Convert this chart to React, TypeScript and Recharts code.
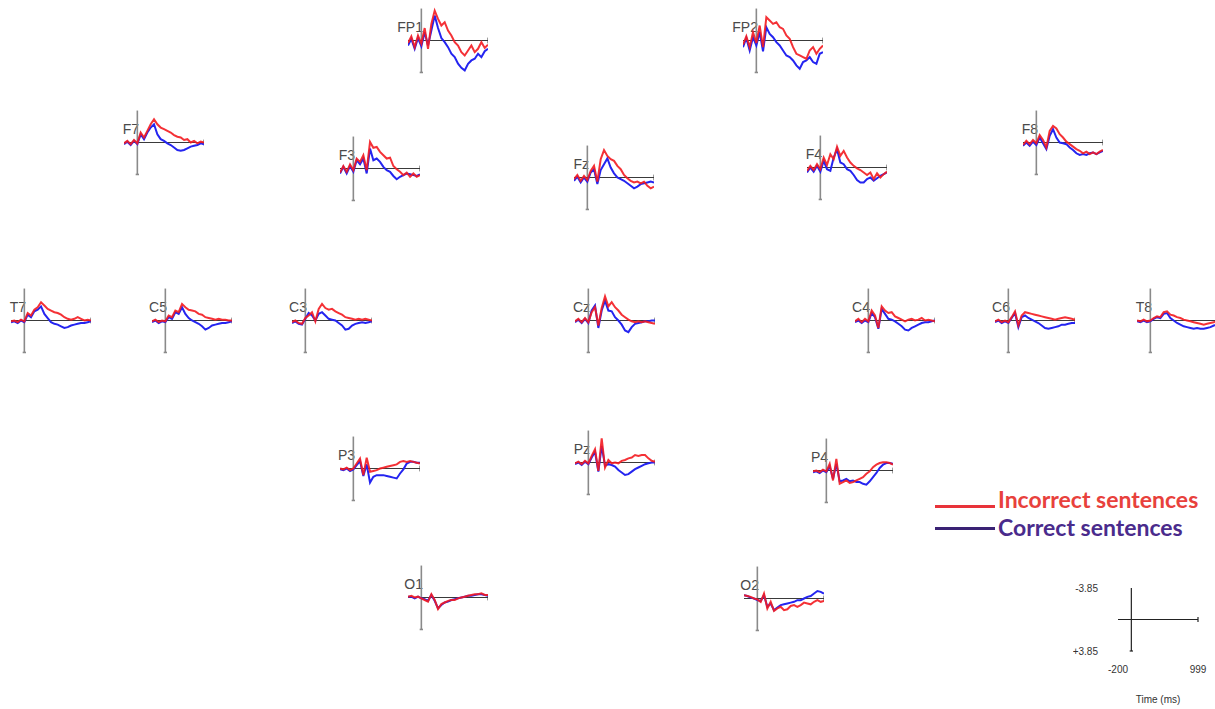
import React from 'react';
import { LineChart, Line, XAxis, YAxis, ReferenceLine, Label } from 'recharts';

// time points (ms) shared by every electrode
const times = [-200, -150, -100, -50, 0, 50, 100, 150, 200, 250, 300, 350, 400, 450, 500, 550, 600, 650, 700, 750, 800, 850, 900, 950, 999];

// amplitudes in µV, negative plotted upwards
const fp1Incorrect = [0.3, -0.5, 0.8, -0.6, 0.4, -1.5, 1.0, -2.0, -3.6, -2.6, -1.8, -2.2, -1.2, -0.6, 0.2, 0.6, 1.4, 1.8, 1.2, 0.6, 1.4, 1.0, 0.2, 0.9, 0.5];
const fp1Correct = [0.6, -0.2, 1.0, -0.3, 0.7, -1.0, 0.6, -1.2, -3.0, -1.5, -0.3, 0.2, 0.8, 1.6, 2.0, 2.8, 3.3, 3.6, 2.8, 2.4, 2.2, 1.6, 2.0, 1.3, 1.0];
const fp2Incorrect = [0.5, -0.5, 0.8, -1.0, 0.3, -1.8, 0.8, -2.8, -2.4, -2.0, -2.2, -1.6, -1.4, -0.6, -0.2, 0.8, 1.6, 1.8, 2.0, 2.2, 1.2, 0.8, 1.6, 1.0, 0.6];
const fp2Correct = [0.8, -0.3, 1.2, -0.4, 0.6, -1.0, 1.3, -1.6, -0.8, -0.4, 0.2, 0.6, 1.2, 1.8, 2.0, 2.4, 3.0, 3.4, 2.6, 2.4, 2.0, 2.6, 2.8, 1.6, 1.4];
const f7Incorrect = [0.1, -0.2, 0.2, -0.3, 0.1, -1.2, -0.6, -1.4, -2.2, -2.8, -2.2, -1.8, -1.6, -1.4, -1.2, -0.9, -0.7, -0.6, -0.3, -0.4, 0.0, -0.2, 0.1, -0.1, 0.0];
const f7Correct = [0.2, -0.1, 0.3, -0.2, 0.2, -1.0, -0.4, -1.2, -1.8, -2.2, -1.0, -0.4, -0.2, 0.1, 0.3, 0.6, 0.9, 1.0, 0.9, 0.7, 0.5, 0.4, 0.3, 0.1, 0.2];
const f3Incorrect = [0.5, -0.3, 0.4, -0.5, 0.2, -1.2, -0.8, -1.6, 0.2, -3.2, -2.5, -2.6, -2.0, -1.6, -1.2, -1.3, -0.3, 0.1, 0.4, 0.8, 0.5, 1.0, 0.6, 1.0, 0.8];
const f3Correct = [0.6, -0.2, 0.6, -0.3, 0.4, -1.0, -0.5, -1.2, 0.6, -2.4, -1.0, -1.2, -0.8, -0.2, 0.2, 0.4, 0.9, 1.3, 1.0, 0.8, 0.6, 0.7, 0.8, 0.9, 0.7];
const fzIncorrect = [0.2, -0.3, 0.4, -0.2, 0.3, -0.8, -1.4, 0.5, -2.2, -3.3, -2.6, -2.2, -2.0, -1.4, -1.0, -0.3, 0.1, 0.4, 0.6, 0.5, 0.7, 0.5, 1.0, 1.3, 1.1];
const fzCorrect = [0.4, -0.1, 0.6, 0.0, 0.5, -0.6, -1.0, 0.8, -0.9, -1.6, -2.3, -1.2, -0.5, 0.0, 0.2, 0.4, 0.7, 1.0, 1.3, 1.1, 0.8, 0.7, 0.6, 0.5, 0.6];
const f4Incorrect = [0.4, -0.2, 0.3, -0.4, 0.2, -1.2, -0.3, -1.6, -1.0, -2.5, -1.4, -2.0, -1.2, -0.6, -0.2, 0.1, 0.3, 0.6, 0.9, 0.6, 1.4, 0.7, 1.2, 0.8, 0.5];
const f4Correct = [0.6, 0.0, 0.5, -0.2, 0.5, -0.8, 0.2, 0.4, -1.2, -2.2, -0.6, -0.4, 0.2, 0.4, 0.9, 1.5, 1.8, 1.8, 1.4, 1.2, 1.6, 1.3, 1.0, 0.8, 0.6];
const f8Incorrect = [0.3, -0.2, 0.2, -0.3, 0.1, -0.9, -0.3, 0.6, -1.4, -2.0, -1.7, -1.0, -0.6, -0.1, 0.2, 0.5, 0.8, 1.0, 1.3, 1.1, 1.4, 1.2, 1.4, 1.1, 0.9];
const f8Correct = [0.4, 0.0, 0.4, -0.1, 0.3, -0.6, 0.1, 0.8, -0.8, -1.6, -0.6, 0.0, 0.1, 0.2, 0.6, 0.9, 1.3, 1.5, 1.4, 1.5, 1.3, 1.2, 1.4, 1.2, 1.0];
const t7Incorrect = [0.1, 0.0, 0.2, -0.1, 0.1, -0.9, -0.6, -1.3, -1.6, -2.2, -1.8, -1.4, -1.2, -1.0, -0.9, -0.7, -0.4, -0.2, -0.1, -0.2, -0.4, -0.2, 0.0, -0.1, 0.0];
const t7Correct = [0.2, 0.1, 0.3, 0.0, 0.2, -0.7, -0.4, -1.1, -1.3, -1.7, -0.8, -0.3, 0.2, 0.4, 0.5, 0.7, 0.9, 0.8, 0.6, 0.5, 0.4, 0.3, 0.3, 0.2, 0.1];
const c5Incorrect = [0.1, -0.1, 0.2, 0.0, 0.1, -0.6, -0.4, -1.2, -1.0, -2.0, -1.6, -1.3, -1.2, -1.1, -0.8, -0.7, -0.4, -0.3, -0.2, -0.1, -0.2, -0.1, -0.1, 0.0, 0.0];
const c5Correct = [0.2, 0.0, 0.3, 0.1, 0.2, -0.4, -0.2, -1.0, -0.8, -1.6, -0.8, -0.3, 0.0, 0.2, 0.4, 0.7, 1.1, 0.9, 0.6, 0.5, 0.4, 0.3, 0.3, 0.2, 0.1];
const c3Incorrect = [0.2, 0.0, 0.3, 0.4, -0.3, -0.6, -1.0, 0.1, -1.4, -2.0, -1.5, -1.3, -1.4, -1.1, -0.9, -0.7, -0.4, -0.3, -0.2, -0.1, -0.2, -0.1, -0.2, -0.1, 0.0];
const c3Correct = [0.3, 0.1, 0.4, 0.5, -0.2, -0.9, -0.6, 0.0, -0.8, -1.0, -0.6, -0.2, -0.1, 0.0, 0.3, 0.6, 1.1, 1.0, 0.6, 0.4, 0.3, 0.2, 0.3, 0.2, 0.1];
const czIncorrect = [0.1, -0.2, 0.2, -0.3, 0.2, -1.0, -1.6, 0.6, -1.5, -2.9, -1.7, -2.2, -1.6, -1.2, -0.7, -0.4, -0.1, 0.1, 0.2, 0.1, 0.2, 0.1, 0.2, 0.3, 0.4];
const czCorrect = [0.2, -0.1, 0.3, -0.2, 0.3, -1.2, -1.8, 0.9, -1.2, -2.4, -1.2, -1.1, -0.4, 0.0, 0.5, 1.2, 1.4, 0.8, 0.4, 0.3, 0.2, 0.1, 0.1, 0.0, 0.0];
const c4Incorrect = [0.1, -0.2, 0.2, -0.2, 0.1, -1.2, -0.6, 0.9, -1.7, -1.2, -0.9, -1.0, -0.5, -0.3, -0.1, 0.1, -0.1, -0.2, 0.0, -0.1, -0.3, 0.0, -0.1, 0.0, 0.1];
const c4Correct = [0.2, 0.0, 0.3, 0.0, 0.2, -0.9, -0.4, 1.0, -1.4, -0.8, -0.2, -0.1, 0.1, 0.4, 0.7, 1.1, 1.2, 0.9, 0.7, 0.5, 0.3, 0.2, 0.2, 0.1, 0.0];
const c6Incorrect = [0.1, -0.1, 0.2, 0.0, 0.2, -0.4, -1.1, 0.6, -0.6, -1.0, -0.9, -0.8, -0.7, -0.6, -0.5, -0.4, -0.3, -0.2, -0.1, -0.2, -0.3, -0.4, -0.3, -0.2, -0.1];
const c6Correct = [0.2, 0.0, 0.3, 0.1, 0.3, -0.3, -0.9, 0.8, -0.4, -0.6, -0.3, -0.1, 0.1, 0.3, 0.6, 0.9, 1.0, 0.9, 0.8, 0.7, 0.5, 0.5, 0.4, 0.3, 0.3];
const t8Incorrect = [0.0, 0.1, -0.1, 0.1, 0.0, -0.3, -0.5, -0.4, -1.0, -1.1, -0.7, -0.6, -0.4, -0.3, -0.1, 0.0, 0.1, 0.2, 0.3, 0.4, 0.5, 0.4, 0.3, 0.2, 0.1];
const t8Correct = [0.1, 0.2, 0.0, 0.2, 0.1, -0.2, -0.4, -0.3, -0.8, -0.9, -0.3, 0.0, 0.3, 0.5, 0.7, 0.8, 0.9, 1.0, 0.9, 1.0, 1.0, 0.9, 0.8, 0.6, 0.5];
const p3Incorrect = [0.0, 0.1, -0.1, 0.2, 0.0, -0.6, -1.2, 0.8, -1.3, 0.4, 0.3, 0.2, 0.0, -0.1, -0.2, -0.3, -0.4, -0.5, -0.8, -0.9, -0.8, -0.9, -0.8, -0.7, -0.6];
const p3Correct = [0.1, 0.2, 0.0, 0.3, 0.1, -0.4, -0.9, 0.9, -0.5, 1.7, 1.0, 0.8, 0.8, 0.8, 0.9, 1.0, 1.1, 1.2, 0.6, 0.1, -0.6, -0.8, -0.8, -0.7, -0.7];
const pzIncorrect = [0.1, -0.1, 0.2, -0.2, 0.1, -0.8, -1.6, 1.0, -2.9, 0.6, -0.3, 0.1, 0.0, 0.1, -0.2, -0.3, -0.5, -0.6, -0.9, -0.8, -0.9, -0.9, -0.5, -0.2, -0.1];
const pzCorrect = [0.2, 0.0, 0.3, -0.1, 0.2, -0.6, -1.3, 1.1, -2.0, 0.4, 0.2, 0.3, 0.5, 0.9, 1.2, 1.5, 1.4, 1.1, 0.8, 0.6, 0.4, 0.2, 0.1, 0.0, 0.0];
const p4Incorrect = [0.1, 0.0, 0.2, -0.1, 0.1, -0.8, 1.2, -1.4, 1.6, 1.4, 1.2, 1.5, 1.4, 1.2, 1.0, 0.8, 0.4, 0.1, -0.4, -0.7, -0.9, -1.0, -1.0, -0.9, -0.7];
const p4Correct = [0.2, 0.1, 0.3, 0.0, 0.2, -0.5, 1.0, -0.8, 1.3, 1.2, 1.0, 1.3, 1.2, 1.4, 1.4, 1.6, 1.7, 1.3, 0.8, 0.3, -0.3, -0.7, -0.9, -0.9, -0.8];
const o1Incorrect = [-0.1, -0.2, 0.0, -0.1, 0.1, 0.3, 0.5, -0.4, 0.3, 1.4, 0.8, 0.6, 0.4, 0.3, 0.3, 0.1, 0.0, -0.1, -0.2, -0.3, -0.4, -0.4, -0.5, -0.3, -0.3];
const o1Correct = [-0.1, -0.1, 0.1, -0.1, 0.1, 0.2, 0.4, -0.3, 0.4, 1.3, 0.9, 0.6, 0.5, 0.3, 0.2, 0.1, 0.0, -0.1, -0.2, -0.2, -0.3, -0.4, -0.4, -0.3, -0.2];
const o2Incorrect = [-0.4, -0.3, -0.2, 0.0, 0.1, 0.4, -0.6, 1.2, 0.4, 1.5, 1.2, 1.0, 1.4, 1.3, 0.9, 0.8, 1.0, 0.8, 0.5, 0.6, 0.7, 0.4, 0.2, 0.4, 0.3];
const o2Correct = [-0.4, -0.3, -0.1, 0.0, 0.2, 0.3, -0.4, 1.0, 0.6, 1.4, 1.1, 0.8, 0.7, 0.6, 0.5, 0.4, 0.2, 0.2, 0.0, -0.2, -0.3, -0.6, -0.9, -0.8, -0.6];

const electrodes = [
  { name: 'FP1', incorrect: fp1Incorrect, correct: fp1Correct },
  { name: 'FP2', incorrect: fp2Incorrect, correct: fp2Correct },
  { name: 'F7', incorrect: f7Incorrect, correct: f7Correct },
  { name: 'F3', incorrect: f3Incorrect, correct: f3Correct },
  { name: 'Fz', incorrect: fzIncorrect, correct: fzCorrect },
  { name: 'F4', incorrect: f4Incorrect, correct: f4Correct },
  { name: 'F8', incorrect: f8Incorrect, correct: f8Correct },
  { name: 'T7', incorrect: t7Incorrect, correct: t7Correct },
  { name: 'C5', incorrect: c5Incorrect, correct: c5Correct },
  { name: 'C3', incorrect: c3Incorrect, correct: c3Correct },
  { name: 'Cz', incorrect: czIncorrect, correct: czCorrect },
  { name: 'C4', incorrect: c4Incorrect, correct: c4Correct },
  { name: 'C6', incorrect: c6Incorrect, correct: c6Correct },
  { name: 'T8', incorrect: t8Incorrect, correct: t8Correct },
  { name: 'P3', incorrect: p3Incorrect, correct: p3Correct },
  { name: 'Pz', incorrect: pzIncorrect, correct: pzCorrect },
  { name: 'P4', incorrect: p4Incorrect, correct: p4Correct },
  { name: 'O1', incorrect: o1Incorrect, correct: o1Correct },
  { name: 'O2', incorrect: o2Incorrect, correct: o2Correct },
];

// page position of each plot's origin (0 ms, 0 µV)
const origins: Record<string, [number, number]> = {
  FP1: [421, 40], FP2: [756, 40],
  F7: [137, 142], F3: [353, 168], Fz: [587, 177], F4: [820, 167], F8: [1036, 142],
  T7: [24, 320], C5: [165, 320], C3: [305, 320], Cz: [588, 320], C4: [868, 320], C6: [1008, 320], T8: [1150, 320],
  P3: [353, 468], Pz: [588, 462], P4: [826, 470],
  O1: [421, 597], O2: [757, 598],
};

const T_MIN = -200;
const T_MAX = 999;
const AMP = 3.85;
const Y_LIM = 5;
const PLOT_W = 80;
const PX_PER_MS = PLOT_W / (T_MAX - T_MIN);
const PX_PER_UV = 32 / AMP;
const PLOT_H = Math.round(2 * Y_LIM * PX_PER_UV);

const RED = '#f31b20';
const BLUE = '#2424f0';

const Electrode = ({ name, incorrect, correct }: { name: string; incorrect: number[]; correct: number[] }) => {
  const [x0, y0] = origins[name];
  const data = times.map((t, i) => ({ t, incorrect: incorrect[i], correct: correct[i] }));
  return (
    <>
      <div
        style={{
          position: 'absolute', left: x0 - 38, top: y0 - 21, width: 40, textAlign: 'right',
          fontFamily: 'Arial, "Liberation Sans", sans-serif', fontSize: 14, lineHeight: '16px', color: '#4a4a4a',
        }}
      >
        {name}
      </div>
      <div style={{ position: 'absolute', left: x0 - (0 - T_MIN) * PX_PER_MS, top: y0 - PLOT_H / 2 }}>
        <LineChart width={PLOT_W} height={PLOT_H} data={data} margin={{ top: 0, right: 0, bottom: 0, left: 0 }}>
          <XAxis dataKey="t" type="number" domain={[T_MIN, T_MAX]} hide />
          <YAxis type="number" domain={[-Y_LIM, Y_LIM]} reversed hide />
          <ReferenceLine segment={[{ x: 0, y: -AMP }, { x: 0, y: AMP }]} stroke="#8a8a8a" strokeWidth={1.6} />
          <ReferenceLine segment={[{ x: -25, y: AMP }, { x: 25, y: AMP }]} stroke="#8a8a8a" strokeWidth={1.6} />
          <ReferenceLine y={0} stroke="#3a3a3a" strokeWidth={1} />
          <ReferenceLine segment={[{ x: T_MAX, y: -0.35 }, { x: T_MAX, y: 0.35 }]} stroke="#3a3a3a" strokeWidth={1} />
          <Line type="linear" dataKey="correct" stroke={BLUE} strokeWidth={2} dot={false} isAnimationActive={false} />
          <Line type="linear" dataKey="incorrect" stroke={RED} strokeWidth={2} strokeOpacity={0.9} dot={false} isAnimationActive={false} />
        </LineChart>
      </div>
    </>
  );
};

const scaleData = [{ t: T_MIN, v: 0 }, { t: T_MAX, v: 0 }];
const axisFont = { fontSize: 10, fill: '#333', fontFamily: 'Arial, "Liberation Sans", sans-serif' };

const ScaleBar = () => (
  <div style={{ position: 'absolute', left: 1118 - 45, top: 588 - 10 }}>
    <LineChart width={45 + PLOT_W + 20} height={10 + 63 + 60} data={scaleData} margin={{ top: 10, right: 20, bottom: 0, left: 0 }}>
      <XAxis
        dataKey="t" type="number" domain={[T_MIN, T_MAX]} ticks={[T_MIN, T_MAX]}
        axisLine={false} tickLine={false} tick={axisFont} tickMargin={9} height={60}
      >
        <Label value="Time (ms)" position="insideBottom" offset={8} style={axisFont} />
      </XAxis>
      <YAxis
        type="number" domain={[-AMP, AMP]} ticks={[-AMP, AMP]} reversed width={45}
        axisLine={false} tickLine={false} tick={axisFont} tickMargin={14}
        tickFormatter={(v: number) => (v > 0 ? `+${v}` : `${v}`)}
      />
      <Line dataKey="v" stroke="none" dot={false} isAnimationActive={false} />
      <ReferenceLine segment={[{ x: 0, y: -AMP }, { x: 0, y: AMP }]} stroke="#222" strokeWidth={1.2} />
      <ReferenceLine segment={[{ x: -25, y: AMP }, { x: 25, y: AMP }]} stroke="#222" strokeWidth={1.2} />
      <ReferenceLine y={0} stroke="#222" strokeWidth={1.2} />
      <ReferenceLine segment={[{ x: T_MAX, y: -0.3 }, { x: T_MAX, y: 0.3 }]} stroke="#222" strokeWidth={1.2} />
    </LineChart>
  </div>
);

const legendItems = [
  { label: 'Incorrect sentences', line: '#e8333a', text: '#e8413c', textTop: 485, lineTop: 505 },
  { label: 'Correct sentences', line: '#3a2274', text: '#4a2b8c', textTop: 513, lineTop: 527 },
];

const App = () => (
  <div style={{ position: 'absolute', left: 0, top: 0, width: 1215, height: 709, background: '#fff', overflow: 'hidden' }}>
    {electrodes.map((e) => (
      <Electrode key={e.name} name={e.name} incorrect={e.incorrect} correct={e.correct} />
    ))}
    <ScaleBar />
    {legendItems.map((it) => (
      <React.Fragment key={it.label}>
        <div style={{ position: 'absolute', left: 935, top: it.lineTop, width: 60, height: 2.5, background: it.line }} />
        <div
          style={{
            position: 'absolute', left: 998, top: it.textTop, whiteSpace: 'nowrap',
            fontFamily: 'Lato, "Open Sans", sans-serif', fontWeight: 700, fontSize: 23, lineHeight: '28px', color: it.text,
          }}
        >
          {it.label}
        </div>
      </React.Fragment>
    ))}
  </div>
);

export default App;
